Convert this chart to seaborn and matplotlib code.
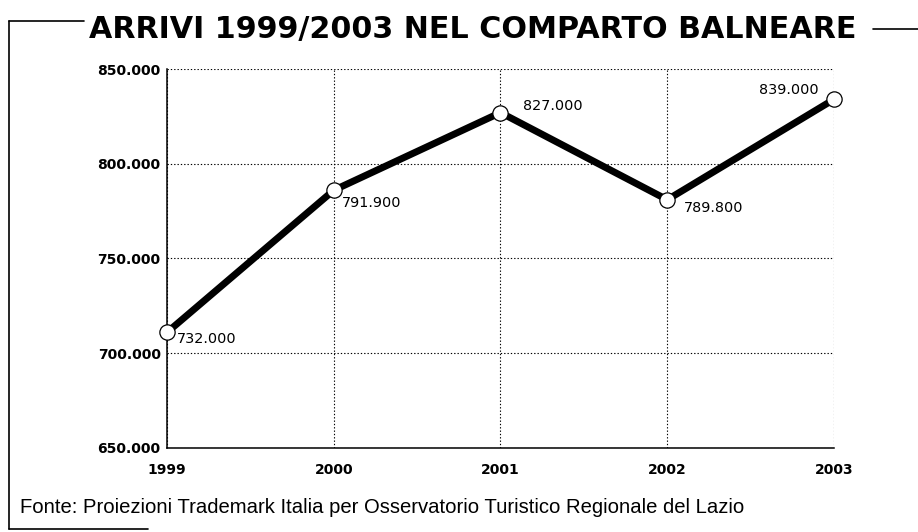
import matplotlib
matplotlib.use("Agg")
import matplotlib.pyplot as plt
import matplotlib.ticker as mticker
from matplotlib.lines import Line2D
import seaborn as sns

# dati (migliaia di arrivi, posizioni) e etichette stampate
anni = [1999, 2000, 2001, 2002, 2003]
arrivi = [711, 786, 827, 781, 834]
etichette = ["732.000", "791.900", "827.000", "789.800", "839.000"]
tick_y = [650, 700, 750, 800, 850]

titolo = "ARRIVI 1999/2003 NEL COMPARTO BALNEARE"
fonte = "Fonte: Proiezioni Trademark Italia per Osservatorio Turistico Regionale del Lazio"

sns.set_theme(style="white")
plt.rcParams["font.family"] = ["DejaVu Sans"]

fig = plt.figure(figsize=(9.18, 5.32), dpi=100)
ax = fig.add_axes([0.1819, 0.1579, 0.7266, 0.7124])

sns.lineplot(
    x=anni, y=arrivi, ax=ax,
    color="black", linewidth=5,
    marker="o", markersize=11,
    markerfacecolor="white", markeredgecolor="black", markeredgewidth=0.9,
    zorder=3, clip_on=False
)

ax.set_xlim(1999, 2003)
ax.set_ylim(650, 850)
ax.set_xticks(anni)
ax.set_yticks(tick_y)
ax.yaxis.set_major_formatter(
    mticker.FuncFormatter(lambda v, p: f"{v * 1000:,.0f}".replace(",", "."))
)
ax.grid(True, color="black", linestyle=(0, (1.2, 1.8)), linewidth=0.8)

for s in ["top", "right"]:
    ax.spines[s].set_visible(False)
for s in ["left", "bottom"]:
    ax.spines[s].set_color("black")
    ax.spines[s].set_linewidth(1.1)

ax.tick_params(axis="both", direction="inout", length=5, width=0.9,
               colors="black", labelsize=10)
ax.tick_params(axis="x", pad=8)
ax.tick_params(axis="y", pad=2)
for lab in ax.get_xticklabels() + ax.get_yticklabels():
    lab.set_fontweight("bold")

# etichette dei valori
offsets = [(7, -5, "left", "center"), (6, -9, "left", "center"),
           (16, 5, "left", "center"), (12, -6, "left", "center"),
           (-11, 7, "right", "center")]
for x, y, testo, (dx, dy, ha, va) in zip(anni, arrivi, etichette, offsets):
    ax.annotate(testo, (x, y), textcoords="offset points", xytext=(dx, dy),
                ha=ha, va=va, fontsize=10.4, color="black")

fig.text(0.5155, 1 - 38 / 532, titolo, ha="center", va="baseline",
         fontsize=21.7, fontweight="bold", color="black")
fig.text(20 / 918, 1 - 513 / 532, fonte, ha="left", va="baseline",
         fontsize=14.6, color="black", family=["Liberation Sans", "DejaVu Sans"])

# cornice
W, H = 918, 532
for (x0, y0, x1, y1) in [(9, 21, 9, 529), (9, 21, 84, 21),
                         (9, 529, 148, 529), (873, 29, 918, 29)]:
    fig.add_artist(Line2D([x0 / W, x1 / W], [1 - y0 / H, 1 - y1 / H],
                          color="black", linewidth=1.2))

fig.savefig("out.png", dpi=100)
